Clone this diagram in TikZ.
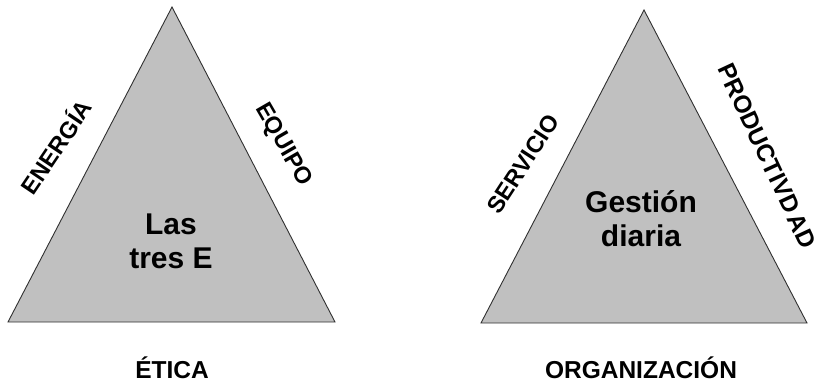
\documentclass[tikz,border=0pt]{standalone}
\usepackage{fontspec}
\setmainfont{Liberation Sans}
\definecolor{triGray}{HTML}{C0C0C0}
\definecolor{triEdge}{HTML}{303030}
\begin{document}
\begin{tikzpicture}[x=1pt,y=-1pt,
  tri/.style={fill=triGray, draw=triEdge, line width=0.9pt, line join=miter},
  sidelabel/.style={font=\bfseries\fontsize{23.5}{28}\selectfont, inner sep=0pt},
  baselabel/.style={font=\bfseries\fontsize{24.5}{28}\selectfont, inner sep=0pt, anchor=base},
  centerlabel/.style={font=\bfseries\fontsize{30}{34}\selectfont, inner sep=0pt, align=center}]
\useasboundingbox (0,0) rectangle (817,383);
% left triangle
\coordinate (LA) at (172,7);
\coordinate (LB) at (8,322);
\coordinate (LC) at (335,322);
\draw[tri] (LA) -- (LB) -- (LC) -- cycle;
% right triangle
\coordinate (RA) at (644,10);
\coordinate (RB) at (481,323);
\coordinate (RC) at (807,323);
\draw[tri] (RA) -- (RB) -- (RC) -- cycle;
% labels
\node[sidelabel, rotate=56] (energia) at (55,146) {ENERGÍA};
\node[sidelabel, rotate=-60] (equipo) at (283,145) {EQUIPO};
\node[baselabel] (etica) at (172,378) {ÉTICA};
\node[centerlabel] (tres) at (171,241) {Las\\tres E};
\node[sidelabel, rotate=57] (servicio) at (523,164) {SERVICIO};
\node[sidelabel, font=\bfseries\fontsize{24.5}{28}\selectfont, rotate=-65] (productividad) at (767,156) {PRODUCTIVD\kern3pt AD};
\node[baselabel] (organizacion) at (641,378) {ORGANIZACIÓN};
\node[centerlabel] (gestion) at (641,219) {Gestión\\diaria};
\end{tikzpicture}
\end{document}
